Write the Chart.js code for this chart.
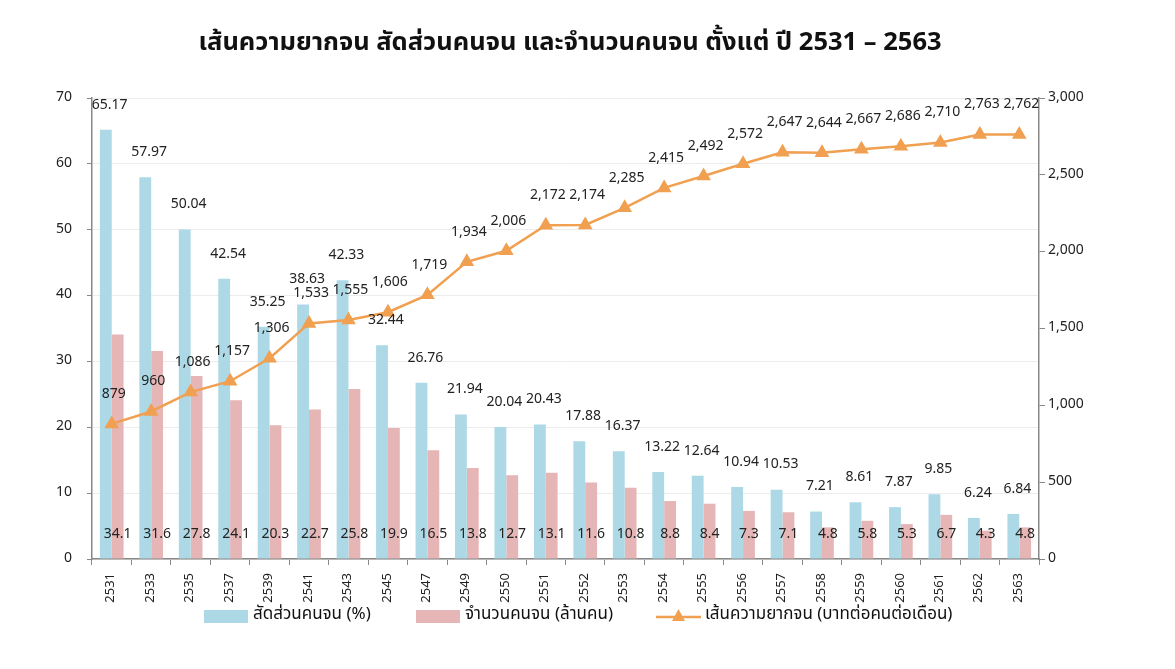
<!DOCTYPE html>
<html><head><meta charset="utf-8">
<script src="https://cdn.jsdelivr.net/npm/chart.js@4"></script>
<style>html,body{margin:0;padding:0;background:#fff;}</style>
</head><body>
<canvas id="c" width="1175" height="669"></canvas>
<script>
const years = ['2531','2533','2535','2537','2539','2541','2543','2545','2547','2549','2550','2551','2552','2553','2554','2555','2556','2557','2558','2559','2560','2561','2562','2563'];
const poorRatio = [65.17,57.97,50.04,42.54,35.25,38.63,42.33,32.44,26.76,21.94,20.04,20.43,17.88,16.37,13.22,12.64,10.94,10.53,7.21,8.61,7.87,9.85,6.24,6.84];
const poorCount = [34.1,31.6,27.8,24.1,20.3,22.7,25.8,19.9,16.5,13.8,12.7,13.1,11.6,10.8,8.8,8.4,7.3,7.1,4.8,5.8,5.3,6.7,4.3,4.8];
const povertyLine = [879,960,1086,1157,1306,1533,1555,1606,1719,1934,2006,2172,2174,2285,2415,2492,2572,2647,2644,2667,2686,2710,2763,2762];
const titleText = 'เส้นความยากจน สัดส่วนคนจน และจำนวนคนจน ตั้งแต่ ปี 2531 – 2563';
const seriesNames = ['สัดส่วนคนจน (%)','จำนวนคนจน (ล้านคน)','เส้นความยากจน (บาทต่อคนต่อเดือน)'];

const FONT = 'Tahoma, "Noto Sans Thai", "Noto Sans", sans-serif';
const BLUE = '#ADD8E6', PINK = '#E6B5B5', ORANGE = '#F0A050';

const labelPlugin = {
  id: 'labels',
  afterDatasetsDraw(chart) {
    const ctx = chart.ctx, xs = chart.scales.x;
    ctx.save();
    ctx.font = '14px ' + FONT;
    ctx.fillStyle = '#222';
    ctx.textAlign = 'center';
    ctx.textBaseline = 'middle';
    chart.getDatasetMeta(0).data.forEach((bar, i) => {
      ctx.fillText(poorRatio[i].toFixed(2), xs.getPixelForValue(i) - 2, bar.y - 24);
    });
    chart.getDatasetMeta(1).data.forEach((bar, i) => {
      ctx.fillText(poorCount[i].toFixed(1), bar.x, chart.chartArea.bottom - 24);
    });
    chart.getDatasetMeta(2).data.forEach((pt, i) => {
      ctx.fillText(povertyLine[i].toLocaleString('en-US'), pt.x + 2, pt.y - 29);
    });
    ctx.restore();
  }
};

const decorPlugin = {
  id: 'decor',
  afterDraw(chart) {
    const ctx = chart.ctx;
    ctx.save();
    ctx.fillStyle = '#111';
    ctx.font = 'bold 25.5px ' + FONT;
    ctx.textAlign = 'center';
    ctx.textBaseline = 'middle';
    ctx.fillText(titleText, 570, 45);
    // legend
    ctx.font = '17px ' + FONT;
    ctx.textAlign = 'left';
    ctx.fillStyle = BLUE; ctx.fillRect(204, 610, 44, 13);
    ctx.fillStyle = PINK; ctx.fillRect(416, 610, 44, 13);
    ctx.strokeStyle = ORANGE; ctx.lineWidth = 2.5;
    ctx.beginPath(); ctx.moveTo(656, 617); ctx.lineTo(701, 617); ctx.stroke();
    ctx.fillStyle = ORANGE;
    ctx.beginPath(); ctx.moveTo(678.5, 609); ctx.lineTo(685, 621); ctx.lineTo(672, 621); ctx.closePath(); ctx.fill();
    ctx.fillStyle = '#111';
    ctx.fillText(seriesNames[0], 253, 616);
    ctx.fillText(seriesNames[1], 465, 616);
    ctx.fillText(seriesNames[2], 705, 616);
    ctx.restore();
  }
};

new Chart(document.getElementById('c'), {
  data: {
    labels: years,
    datasets: [
      { type: 'bar', label: seriesNames[0], data: poorRatio, backgroundColor: BLUE, yAxisID: 'y', order: 1, barPercentage: 1, categoryPercentage: 0.6 },
      { type: 'bar', label: seriesNames[1], data: poorCount, backgroundColor: PINK, yAxisID: 'y', order: 2, barPercentage: 1, categoryPercentage: 0.6 },
      { type: 'line', label: seriesNames[2], data: povertyLine, borderColor: ORANGE, backgroundColor: ORANGE, borderWidth: 2.5,
        pointStyle: 'triangle', pointRadius: 6, pointBackgroundColor: ORANGE, pointBorderColor: ORANGE, yAxisID: 'y1', order: 0, tension: 0 }
    ]
  },
  options: {
    responsive: false,
    animation: false,
    devicePixelRatio: 1,
    layout: { padding: { top: 98, bottom: 60, left: 0, right: 0 } },
    plugins: { legend: { display: false }, title: { display: false }, tooltip: { enabled: false } },
    scales: {
      x: {
        offset: true,
        grid: { offset: true, drawOnChartArea: false, drawTicks: true, tickLength: 6, tickColor: '#888' },
        border: { color: '#888', width: 1.5 },
        ticks: { minRotation: 90, maxRotation: 90, padding: 8, color: '#222', font: { family: FONT, size: 13 } },
        afterFit(s) { s.height = 50; }
      },
      y: {
        position: 'left', min: 0, max: 70,
        ticks: { stepSize: 10, padding: 15, color: '#222', font: { family: FONT, size: 14 } },
        grid: { color: '#ececec', tickColor: '#888', tickLength: 5 },
        border: { color: '#888', width: 1.5 },
        afterFit(s) { s.width = 92; }
      },
      y1: {
        position: 'right', min: 0, max: 3000,
        ticks: { stepSize: 500, padding: 3, color: '#222', font: { family: FONT, size: 14 } },
        grid: { drawOnChartArea: false, tickColor: '#888', tickLength: 6 },
        border: { color: '#888', width: 1.5 },
        afterFit(s) { s.width = 136; }
      }
    }
  },
  plugins: [labelPlugin, decorPlugin]
});
</script>
</body></html>
